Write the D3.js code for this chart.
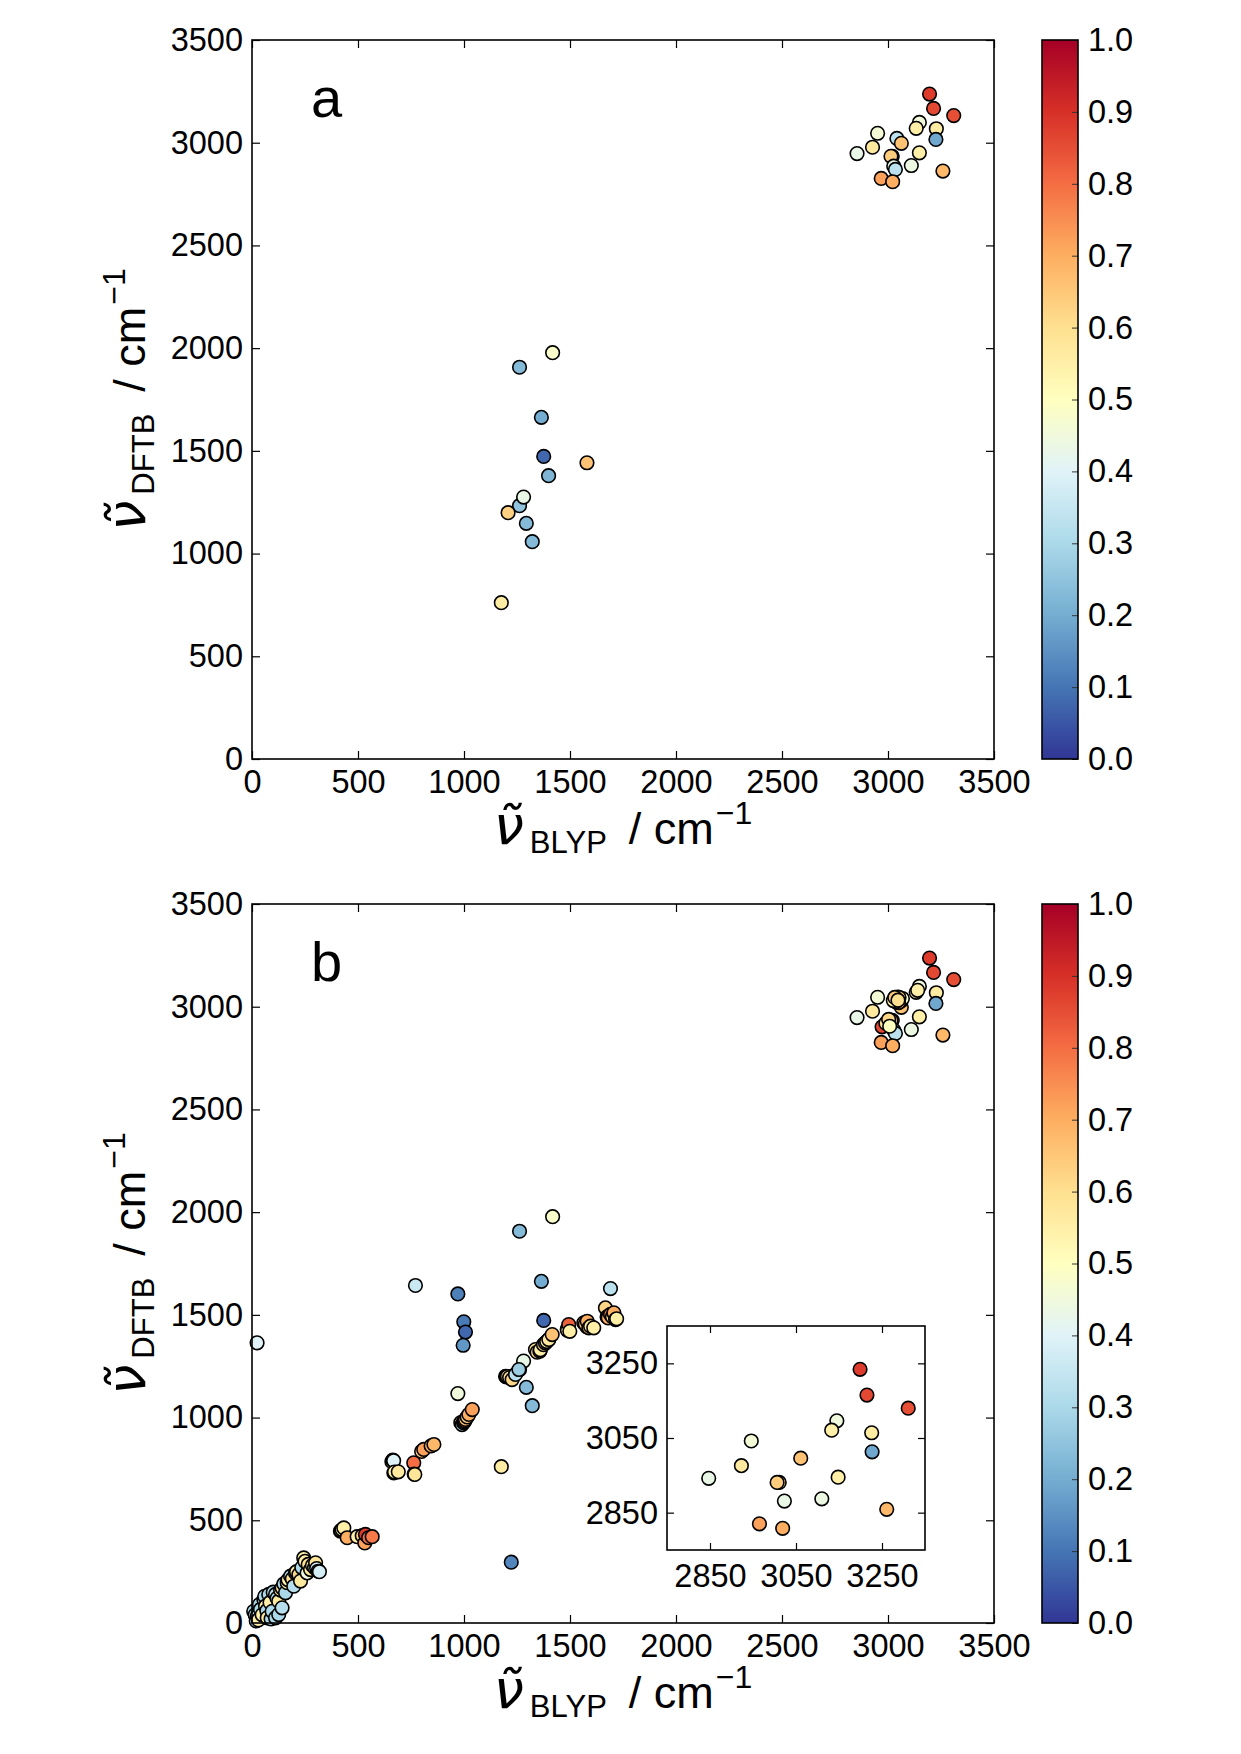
<!DOCTYPE html>
<html><head><meta charset="utf-8">
<script src="https://cdn.jsdelivr.net/npm/d3@7"></script>
<style>body{margin:0;background:#fff}svg{display:block}</style>
</head><body>
<svg id="c" width="1241" height="1754"></svg>
<script>
// ---------------- DATA ----------------
const axisTicks = [0, 500, 1000, 1500, 2000, 2500, 3000, 3500];
const cbarTicks = [0, 0.1, 0.2, 0.3, 0.4, 0.5, 0.6, 0.7, 0.8, 0.9, 1.0];
const insetTicks = [2850, 3050, 3250];
const cmapColors = ["#313695","#4575b4","#74add1","#abd9e9","#e0f3f8","#ffffbf","#fee090","#fdae61","#f46d43","#d73027","#a50026"];

// panel a: BLYP frequency, DFTB frequency, colour weight
const aBLYP = [3196,3215,3310,2951,3148,3133,3228,3226,2927,2854,3042,3063,3020,3014,3148,3027,3035,3110,2968,3022,3259,
               1418,1262,1365,1376,1580,1399,1262,1281,1208,1294,1322,1176];
const aDFTB = [3237,3167,3132,3046,3099,3070,3068,3016,2978,2947,3021,2997,2934,2934,2951,2886,2870,2889,2826,2810,2862,
               1978,1907,1663,1473,1442,1379,1233,1275,1199,1147,1058,761];
const aWeight = [0.88,0.86,0.85,0.46,0.45,0.55,0.56,0.19,0.57,0.43,0.33,0.66,0.64,0.64,0.55,0.43,0.33,0.44,0.72,0.70,0.68,
                 0.48,0.23,0.20,0.08,0.66,0.22,0.25,0.43,0.63,0.23,0.23,0.56];

// panel b: all of panel a plus these extra modes
const bBLYPExtra = [3030,3045,3055,3062,3068,3050,3038,3035,3042,3052,3025,3032,3047,2972,2990,3003,3140,3008,
  1691,1667,1675,1683,1680,1691,1700,1707,1715,1720,1565,1575,1572,1581,1589,1597,1612,1487,1488,1494,1499,
  1337,1345,1358,1360,1375,1384,1390,1400,1416,1196,1200,1205,1215,1227,1243,1259,1223,
  24,771,971,999,1007,996,971,985,991,998,1000,1004,1007,1015,1023,1039,
  800,810,845,858,763,765,768,660,664,668,669,672,690,
  417,420,425,433,449,496,520,532,535,550,567,
  8,15,20,25,30,35,40,48,56,60,64,70,72,79,85,90,95,100,111,111,118,126,126,135,142,142,150,158,166,170,182,190,197,205,210,221,229,235,244,250,260,265,276,285,295,300,305,312,318];
const bDFTBExtra = [3040,3047,3035,3028,3040,3020,3025,3035,3042,3045,3030,3045,3032,2902,2920,2938,3080,2905,
  1628,1534,1490,1494,1485,1502,1490,1510,1477,1481,1461,1458,1455,1469,1437,1445,1437,1430,1425,1453,1420,
  1331,1318,1323,1330,1355,1364,1370,1380,1404,1201,1198,1200,1195,1185,1210,1234,296,
  1364,1643,1602,1466,1416,1352,1117,975,966,975,980,985,991,1003,1015,1039,
  835,845,862,869,780,725,723,785,793,790,731,735,736,
  447,450,455,463,415,420,425,390,431,415,420,
  57,40,10,33,15,90,66,40,114,130,82,60,25,139,100,20,57,150,25,139,120,106,41,160,171,74,190,147,196,210,228,215,179,244,250,236,204,270,317,300,244,285,260,280,270,293,265,252,250];
const bWeightExtra = [0.62,0.68,0.60,0.64,0.47,0.70,0.55,0.60,0.62,0.66,0.55,0.65,0.60,0.86,0.58,0.62,0.55,0.50,
  0.33,0.62,0.65,0.65,0.70,0.78,0.62,0.70,0.58,0.55,0.62,0.60,0.66,0.70,0.70,0.57,0.55,0.62,0.60,0.82,0.55,
  0.60,0.62,0.57,0.55,0.64,0.30,0.58,0.57,0.66,0.65,0.60,0.62,0.60,0.62,0.33,0.27,0.13,
  0.40,0.36,0.12,0.11,0.08,0.16,0.45,0.65,0.30,0.60,0.67,0.65,0.68,0.62,0.70,0.72,
  0.65,0.72,0.70,0.68,0.80,0.55,0.58,0.60,0.45,0.40,0.60,0.55,0.57,
  0.60,0.60,0.50,0.55,0.70,0.55,0.62,0.72,0.88,0.80,0.78,
  0.30,0.30,0.30,0.30,0.55,0.30,0.30,0.55,0.30,0.30,0.55,0.30,0.57,0.30,0.55,0.30,0.30,0.30,0.30,0.32,0.30,0.57,0.30,0.60,0.57,0.32,0.30,0.30,0.57,0.55,0.30,0.60,0.32,0.30,0.57,0.62,0.57,0.30,0.54,0.55,0.45,0.60,0.57,0.58,0.38,0.58,0.38,0.38,0.38];

// inset of panel b (high-frequency region)
const insetBLYP = [3199,3215,3311,3145,3133,3226,3227,2946,2923,2847,3061,3011,3006,3148,3023,3110,2965,3019,3261];
const insetDFTB = [3234,3165,3130,3096,3071,3064,3013,3042,2976,2942,2996,2931,2931,2945,2881,2887,2820,2808,2859];
const insetWeight = [0.88,0.86,0.85,0.45,0.55,0.56,0.19,0.46,0.57,0.43,0.66,0.64,0.64,0.55,0.43,0.44,0.72,0.70,0.68];

// ---------------- DRAW ----------------
const svg = d3.select("#c");
const FONT = "'Liberation Sans', Arial, Helvetica, sans-serif";
const TICKFS = 32.5;
const color = d3.scaleLinear().domain(cmapColors.map((_, i) => i / 10)).range(cmapColors).clamp(true);

const defs = svg.append("defs");
const grad = defs.append("linearGradient").attr("id", "cmap").attr("x1", 0).attr("y1", 1).attr("x2", 0).attr("y2", 0);
d3.range(0, 1.0001, 0.05).forEach(t => grad.append("stop").attr("offset", t).attr("stop-color", color(t)));

function styleAxis(g, size) {
  g.select(".domain").remove();
  g.selectAll("text").attr("font-family", FONT).attr("font-size", size).attr("fill", "#000");
  g.selectAll("line").attr("stroke", "#000").attr("stroke-width", 1.2);
}

function axisLabel(g, sub, x, y, rot) {
  const t = g.append("text")
    .attr("transform", `translate(${x},${y}) rotate(${rot})`)
    .attr("text-anchor", "middle").attr("font-family", FONT).attr("fill", "#000");
  t.append("tspan").attr("font-family", "'DejaVu Sans'").attr("font-style", "italic")
    .attr("font-size", 54).text("\u03BD\u0303");
  t.append("tspan").attr("font-size", 31).attr("dy", 9).attr("dx", 6).text(sub);
  t.append("tspan").attr("font-size", 45).attr("dy", -9).attr("dx", 22).text("/ cm");
  t.append("tspan").attr("font-size", 32).attr("dy", -20).attr("dx", 2).text("\u22121");
}

function panel(opts) {
  const {top, letter, xs, ys, cs} = opts;
  const L = 252, R = 994, T = top, B = top + 719;
  const g = svg.append("g");
  const x = d3.scaleLinear().domain([0, 3500]).range([L, R]);
  const y = d3.scaleLinear().domain([0, 3500]).range([B, T]);

  const gx = g.append("g").attr("transform", `translate(0,${B})`)
    .call(d3.axisBottom(x).tickValues(axisTicks).tickSize(-8).tickSizeOuter(0).tickPadding(11).tickFormat(d3.format("d")));
  styleAxis(gx, TICKFS);
  const gxt = g.append("g").attr("transform", `translate(0,${T})`)
    .call(d3.axisTop(x).tickValues(axisTicks).tickSize(-8).tickSizeOuter(0).tickFormat(""));
  styleAxis(gxt, TICKFS);
  const gy = g.append("g").attr("transform", `translate(${L},0)`)
    .call(d3.axisLeft(y).tickValues(axisTicks).tickSize(-8).tickSizeOuter(0).tickPadding(9).tickFormat(d3.format("d")));
  styleAxis(gy, TICKFS);
  const gyr = g.append("g").attr("transform", `translate(${R},0)`)
    .call(d3.axisRight(y).tickValues(axisTicks).tickSize(-8).tickSizeOuter(0).tickFormat(""));
  styleAxis(gyr, TICKFS);

  g.append("text").attr("x", 311).attr("y", T + 77).attr("font-family", FONT)
    .attr("font-size", 56).text(letter);

  const pts = xs.map((v, i) => ({x: v, y: ys[i], c: cs[i]}));
  g.append("g").selectAll("circle").data(pts).join("circle")
    .attr("cx", d => x(d.x)).attr("cy", d => y(d.y)).attr("r", 6.8)
    .attr("fill", d => color(d.c)).attr("stroke", "#000").attr("stroke-width", 1.6);

  g.append("rect").attr("x", L).attr("y", T).attr("width", R - L).attr("height", B - T)
    .attr("fill", "none").attr("stroke", "#000").attr("stroke-width", 1.6);

  axisLabel(g, "BLYP", (L + R) / 2, B + 85, 0);
  axisLabel(g, "DFTB", 145, (T + B) / 2, -90);

  // colorbar
  const cL = 1042, cR = 1078;
  const cy = d3.scaleLinear().domain([0, 1]).range([B, T]);
  g.append("rect").attr("x", cL).attr("y", T).attr("width", cR - cL).attr("height", B - T)
    .attr("fill", "url(#cmap)");
  const gc = g.append("g").attr("transform", `translate(${cR},0)`)
    .call(d3.axisRight(cy).tickValues(cbarTicks).tickSize(-6).tickSizeOuter(0).tickPadding(10).tickFormat(d3.format(".1f")));
  styleAxis(gc, TICKFS);
  gc.selectAll("line").attr("stroke", "#333").attr("stroke-width", 1);
  g.append("rect").attr("x", cL).attr("y", T).attr("width", cR - cL).attr("height", B - T)
    .attr("fill", "none").attr("stroke", "#000").attr("stroke-width", 1.6);
  return {g, x, y};
}

panel({top: 40, letter: "a", xs: aBLYP, ys: aDFTB, cs: aWeight});
panel({top: 904, letter: "b", xs: aBLYP.concat(bBLYPExtra), ys: aDFTB.concat(bDFTBExtra), cs: aWeight.concat(bWeightExtra)});

// inset
(function () {
  const L = 667, R = 925, T = 1326, B = 1550;
  const g = svg.append("g");
  const x = d3.scaleLinear().domain([2750, 3350]).range([L, R]);
  const y = d3.scaleLinear().domain([2750, 3350]).range([B, T]);
  g.append("rect").attr("x", L).attr("y", T).attr("width", R - L).attr("height", B - T).attr("fill", "#fff");
  const gx = g.append("g").attr("transform", `translate(0,${B})`)
    .call(d3.axisBottom(x).tickValues(insetTicks).tickSize(-7).tickSizeOuter(0).tickPadding(14).tickFormat(d3.format("d")));
  styleAxis(gx, TICKFS);
  const gxt = g.append("g").attr("transform", `translate(0,${T})`)
    .call(d3.axisTop(x).tickValues(insetTicks).tickSize(-7).tickSizeOuter(0).tickFormat(""));
  styleAxis(gxt, TICKFS);
  const gy = g.append("g").attr("transform", `translate(${L},0)`)
    .call(d3.axisLeft(y).tickValues(insetTicks).tickSize(-7).tickSizeOuter(0).tickPadding(9).tickFormat(d3.format("d")));
  styleAxis(gy, TICKFS);
  const gyr = g.append("g").attr("transform", `translate(${R},0)`)
    .call(d3.axisRight(y).tickValues(insetTicks).tickSize(-7).tickSizeOuter(0).tickFormat(""));
  styleAxis(gyr, TICKFS);
  const pts = insetBLYP.map((v, i) => ({x: v, y: insetDFTB[i], c: insetWeight[i]}));
  g.append("g").selectAll("circle").data(pts).join("circle")
    .attr("cx", d => x(d.x)).attr("cy", d => y(d.y)).attr("r", 6.8)
    .attr("fill", d => color(d.c)).attr("stroke", "#000").attr("stroke-width", 1.6);
  g.append("rect").attr("x", L).attr("y", T).attr("width", R - L).attr("height", B - T)
    .attr("fill", "none").attr("stroke", "#000").attr("stroke-width", 1.6);
})();
</script>
</body></html>
